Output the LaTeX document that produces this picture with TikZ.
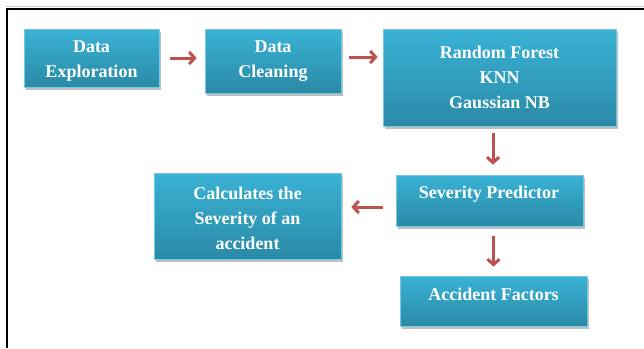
\documentclass[tikz,border=0pt]{standalone}
\usepackage{fontspec}
\setmainfont{Liberation Serif}
\usetikzlibrary{arrows.meta,shadows}
\definecolor{boxtop}{HTML}{3AB2D6}
\definecolor{boxbot}{HTML}{2A8AA6}
\definecolor{arrred}{HTML}{C0504D}
\tikzset{
  box/.style={rectangle, inner sep=0pt, top color=boxtop, bottom color=boxbot, draw=boxtop!70!white, line width=0.6pt,
    drop shadow={shadow xshift=2pt, shadow yshift=-3pt, opacity=0.25, fill=black}},
  txt/.style={text=white, align=center, inner sep=0pt, font=\bfseries\fontsize{18}{25}\selectfont},
  arr/.style={draw=arrred, line width=3pt, -{Straight Barb[length=5.5pt,width=12pt,line width=3pt]}},
}
\begin{document}
\begin{tikzpicture}[x=1pt,y=-1pt]
\useasboundingbox (0,0) rectangle (644,348);
\fill[white] (0,0) rectangle (644,348);
% frame
\draw[gray!40, line width=1pt] (6,6.5) -- (644,6.5);
\draw[black, line width=2pt] (6.5,348) -- (6.5,9) -- (644,9);
% boxes
\node[box, minimum width=135pt, minimum height=58pt] (b1) at (91.5,58) {};
\node[box, minimum width=136pt, minimum height=64pt] (b2) at (273,61) {};
\node[box, minimum width=233pt, minimum height=97pt] (b3) at (499.5,77.5) {};
\node[box, minimum width=187pt, minimum height=51pt] (b4) at (489.5,200.5) {};
\node[box, minimum width=187pt, minimum height=86pt] (b5) at (247.5,216) {};
\node[box, minimum width=187pt, minimum height=50pt] (b6) at (493.5,301) {};
% texts
\node[txt] (t1) at (91.5,61.5) {Data\\Exploration};
\node[txt] (t2) at (273,61.5) {Data\\Cleaning};
\node[txt] (t3) at (499.5,77.5) {Random Forest\\KNN\\Gaussian NB};
\node[txt] (t4) at (489,194) {Severity Predictor};
\node[txt] (t5) at (247.5,218) {Calculates the\\Severity of an\\accident};
\node[txt] (t6) at (493.5,294) {Accident Factors};
% arrows
\draw[arr, shorten <=11pt, shorten >=8pt] (b1.east) -- (b1.east -| b2.west);
\draw[arr, shorten <=8pt, shorten >=5pt] ([yshift=4pt]b2.east) -- ([yshift=4pt]b2.east -| b3.west);
\path ([xshift=3.5pt]b4.north) coordinate (c34);
\draw[arr, shorten <=7pt, shorten >=10pt] (b3.south -| c34) -- (c34);
\draw[arr, shorten <=13pt, shorten >=10pt] ([yshift=-6.5pt]b4.west) -- ([yshift=-6.5pt]b4.west -| b5.east);
\draw[arr, shorten <=10pt, shorten >=9pt] (b6.north |- b4.south) -- (b6.north);
\end{tikzpicture}
\end{document}
